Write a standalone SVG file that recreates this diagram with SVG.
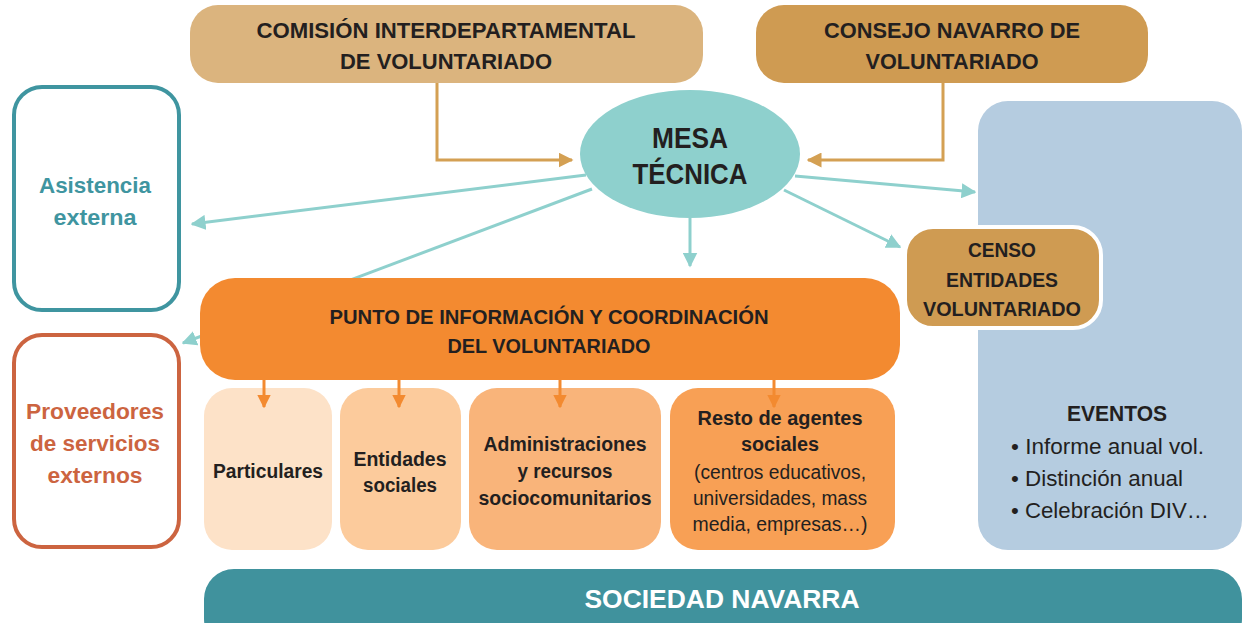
<svg xmlns="http://www.w3.org/2000/svg" width="1242" height="623" viewBox="0 0 1242 623">
<style>
text{font-family:"Liberation Sans",Arial,sans-serif;text-anchor:middle;}
.b{font-weight:bold;fill:#231f20;}
.r{font-weight:normal;fill:#231f20;}
.teal{stroke:#8ed0cd;stroke-width:3;fill:none;}
.gold{stroke:#d4a053;stroke-width:3;fill:none;}
.or{stroke:#f38a30;stroke-width:3;fill:none;}
</style>
<defs>
<marker id="mt" viewBox="0 0 10 10" refX="9" refY="5" markerWidth="5" markerHeight="5" orient="auto" markerUnits="strokeWidth"><path d="M0,0 L10,5 L0,10 z" fill="#8ed0cd"/></marker>
<marker id="mg" viewBox="0 0 10 10" refX="9" refY="5" markerWidth="5" markerHeight="5" orient="auto" markerUnits="strokeWidth"><path d="M0,0 L10,5 L0,10 z" fill="#d4a053"/></marker>
<marker id="mo" viewBox="0 0 10 10" refX="9" refY="5" markerWidth="4.5" markerHeight="4.5" orient="auto" markerUnits="strokeWidth"><path d="M0,0 L10,5 L0,10 z" fill="#f38a30"/></marker>
</defs>

<g id="connectors">
<path class="gold" d="M437,83 V160 H572" marker-end="url(#mg)"/>
<path class="gold" d="M943,83 V160 H808" marker-end="url(#mg)"/>
<line class="teal" x1="586" y1="175" x2="192" y2="224" marker-end="url(#mt)"/>
<line class="teal" x1="592" y1="189" x2="183" y2="343" marker-end="url(#mt)"/>
<line class="teal" x1="690" y1="218" x2="690" y2="266" marker-end="url(#mt)"/>
<line class="teal" x1="795" y1="176" x2="975" y2="192" marker-end="url(#mt)"/>
<line class="teal" x1="784" y1="190" x2="900" y2="247" marker-end="url(#mt)"/>
</g>

<g id="comision">
<rect x="190" y="5" width="513" height="78" rx="28" fill="#dbb47e"/>
<text class="b" x="446" y="38" font-size="22" textLength="379" lengthAdjust="spacingAndGlyphs">COMISIÓN INTERDEPARTAMENTAL</text>
<text class="b" x="446" y="69" font-size="22" textLength="212" lengthAdjust="spacingAndGlyphs">DE VOLUNTARIADO</text>
</g>

<g id="consejo">
<rect x="756" y="5" width="392" height="78" rx="28" fill="#cf9b52"/>
<text class="b" x="952" y="38" font-size="22" textLength="256" lengthAdjust="spacingAndGlyphs">CONSEJO NAVARRO DE</text>
<text class="b" x="952" y="69" font-size="22" textLength="173" lengthAdjust="spacingAndGlyphs">VOLUNTARIADO</text>
</g>

<g id="mesa">
<ellipse cx="690" cy="154" rx="110" ry="64" fill="#8ed0cd"/>
<text class="b" x="690" y="148" font-size="30" textLength="76" lengthAdjust="spacingAndGlyphs">MESA</text>
<text class="b" x="690" y="184" font-size="30" textLength="115" lengthAdjust="spacingAndGlyphs">TÉCNICA</text>
</g>

<g id="asistencia">
<rect x="14" y="87" width="165" height="223" rx="28" fill="#fff" stroke="#3f95a0" stroke-width="4"/>
<text x="95" y="193" font-size="22" font-weight="bold" fill="#3f95a0" textLength="112" lengthAdjust="spacingAndGlyphs">Asistencia</text>
<text x="95" y="225" font-size="22" font-weight="bold" fill="#3f95a0" textLength="83" lengthAdjust="spacingAndGlyphs">externa</text>
</g>

<g id="proveedores">
<rect x="14" y="335" width="165" height="212" rx="28" fill="#fff" stroke="#cc6440" stroke-width="4"/>
<text x="95" y="419" font-size="22" font-weight="bold" fill="#cc6440" textLength="138" lengthAdjust="spacingAndGlyphs">Proveedores</text>
<text x="95" y="451" font-size="22" font-weight="bold" fill="#cc6440" textLength="130" lengthAdjust="spacingAndGlyphs">de servicios</text>
<text x="95" y="483" font-size="22" font-weight="bold" fill="#cc6440" textLength="95" lengthAdjust="spacingAndGlyphs">externos</text>
</g>

<g id="eventos">
<rect x="978" y="101" width="264" height="449" rx="30" fill="#b5cce0"/>
<text class="b" x="1117" y="421" font-size="22" textLength="100" lengthAdjust="spacingAndGlyphs">EVENTOS</text>
<text class="r" x="1011" y="454" font-size="22" style="text-anchor:start" textLength="193" lengthAdjust="spacingAndGlyphs">• Informe anual vol.</text>
<text class="r" x="1011" y="486" font-size="22" style="text-anchor:start" textLength="172" lengthAdjust="spacingAndGlyphs">• Distinción anual</text>
<text class="r" x="1011" y="518" font-size="22" style="text-anchor:start" textLength="198" lengthAdjust="spacingAndGlyphs">• Celebración DIV…</text>
</g>

<g id="censo">
<rect x="905" y="227" width="196" height="101" rx="28" fill="#cf9b52" stroke="#fff" stroke-width="4"/>
<text class="b" x="1002" y="257" font-size="21" textLength="68" lengthAdjust="spacingAndGlyphs">CENSO</text>
<text class="b" x="1002" y="287" font-size="21" textLength="112" lengthAdjust="spacingAndGlyphs">ENTIDADES</text>
<text class="b" x="1002" y="316" font-size="21" textLength="158" lengthAdjust="spacingAndGlyphs">VOLUNTARIADO</text>
</g>

<g id="punto">
<rect x="200" y="278" width="700" height="102" rx="35" fill="#f38a30"/>
<text class="b" x="549" y="324" font-size="20" textLength="439" lengthAdjust="spacingAndGlyphs">PUNTO DE INFORMACIÓN Y COORDINACIÓN</text>
<text class="b" x="549" y="353" font-size="20" textLength="203" lengthAdjust="spacingAndGlyphs">DEL VOLUNTARIADO</text>
</g>

<g id="particulares">
<rect x="204" y="388" width="128" height="162" rx="28" fill="#fde2c8"/>
<text class="b" x="268" y="478" font-size="20" textLength="110" lengthAdjust="spacingAndGlyphs">Particulares</text>
</g>

<g id="entidades">
<rect x="340" y="388" width="121" height="162" rx="28" fill="#fccb9c"/>
<text class="b" x="400" y="466" font-size="20" textLength="93" lengthAdjust="spacingAndGlyphs">Entidades</text>
<text class="b" x="400" y="492" font-size="20" textLength="74" lengthAdjust="spacingAndGlyphs">sociales</text>
</g>

<g id="administraciones">
<rect x="469" y="388" width="192" height="162" rx="28" fill="#f9b47a"/>
<text class="b" x="565" y="451" font-size="20" textLength="163" lengthAdjust="spacingAndGlyphs">Administraciones</text>
<text class="b" x="565" y="478" font-size="20" textLength="95" lengthAdjust="spacingAndGlyphs">y recursos</text>
<text class="b" x="565" y="505" font-size="20" textLength="173" lengthAdjust="spacingAndGlyphs">sociocomunitarios</text>
</g>

<g id="resto">
<rect x="670" y="388" width="225" height="162" rx="28" fill="#f8a055"/>
<text class="b" x="780" y="425" font-size="20" textLength="165" lengthAdjust="spacingAndGlyphs">Resto de agentes</text>
<text class="b" x="780" y="451" font-size="20" textLength="78" lengthAdjust="spacingAndGlyphs">sociales</text>
<text class="r" x="780" y="479" font-size="20" textLength="172" lengthAdjust="spacingAndGlyphs">(centros educativos,</text>
<text class="r" x="780" y="505" font-size="20" textLength="174" lengthAdjust="spacingAndGlyphs">universidades, mass</text>
<text class="r" x="780" y="531" font-size="20" textLength="175" lengthAdjust="spacingAndGlyphs">media, empresas…)</text>
</g>

<g id="sub-arrows">
<line class="or" x1="264" y1="380" x2="264" y2="407" marker-end="url(#mo)"/>
<line class="or" x1="399" y1="380" x2="399" y2="407" marker-end="url(#mo)"/>
<line class="or" x1="560" y1="380" x2="560" y2="407" marker-end="url(#mo)"/>
<line class="or" x1="774" y1="380" x2="774" y2="407" marker-end="url(#mo)"/>
</g>

<g id="sociedad">
<rect x="204" y="569" width="1038" height="80" rx="30" fill="#40929d"/>
<text x="722" y="608" font-size="26" font-weight="bold" fill="#fff" textLength="275" lengthAdjust="spacingAndGlyphs">SOCIEDAD NAVARRA</text>
</g>
</svg>
